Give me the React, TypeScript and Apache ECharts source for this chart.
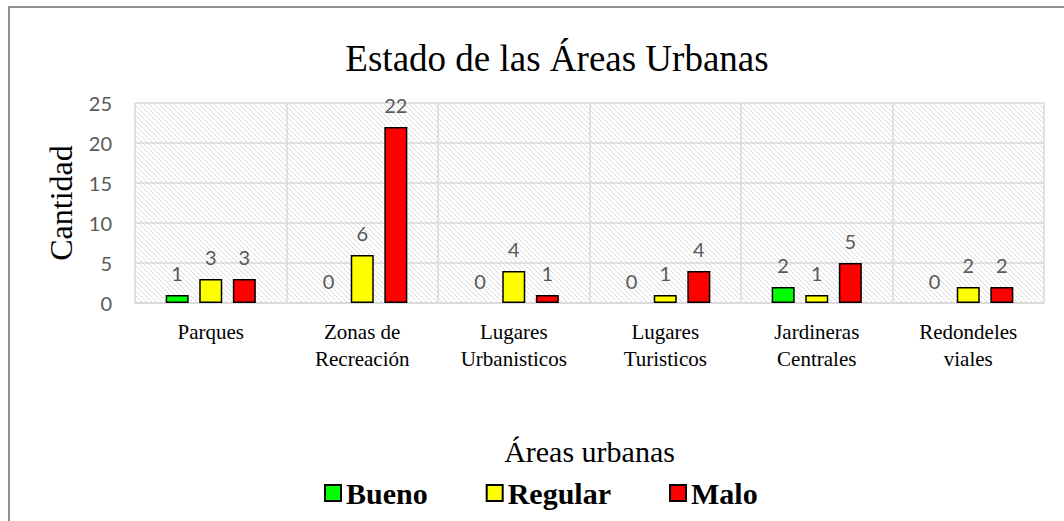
import React, { useEffect, useRef } from "react";
import * as echarts from "echarts";

const categories = [
  "Parques",
  "Zonas de Recreación",
  "Lugares Urbanisticos",
  "Lugares Turisticos",
  "Jardineras Centrales",
  "Redondeles viales",
];
const bueno = [1, 0, 0, 0, 2, 0];
const regular = [3, 6, 4, 1, 1, 2];
const malo = [3, 22, 1, 4, 5, 2];
const seriesNames = ["Bueno", "Regular", "Malo"];
const seriesColors = ["#00ff00", "#ffff00", "#ff0000"];
const yTicks = { min: 0, max: 25, interval: 5 };

const hatchSvg =
  "data:image/svg+xml;charset=utf-8," +
  encodeURIComponent(
    '<svg xmlns="http://www.w3.org/2000/svg" width="5" height="5">' +
      '<rect width="5" height="5" fill="#ffffff"/>' +
      '<path d="M0 0L5 5M-1 4L1 6M4 -1L6 1" stroke="#d9d9d9" stroke-width="1"/>' +
      "</svg>"
  );

export default function App() {
  const ref = useRef<HTMLDivElement>(null);
  useEffect(() => {
    document.body.style.margin = "0";
    const chart = echarts.init(ref.current!, null, { renderer: "svg" });
    const serif = "Liberation Serif";
    const sans = "Lato";
    const dataSets = [bueno, regular, malo];
    chart.setOption({
      animation: false,
      backgroundColor: "#ffffff",
      title: {
        text: "Estado de las Áreas Urbanas",
        left: 552,
        textAlign: "center",
        top: 35,
        textStyle: { fontFamily: serif, fontSize: 37, fontWeight: "normal", color: "#000" },
      },
      graphic: [
        {
          type: "polyline",
          shape: { points: [[9, 521], [9, 7], [1064, 7]] },
          style: { stroke: "#6b6b6b", lineWidth: 1.5, fill: "none" },
          silent: true,
        },
      ],
      legend: {
        data: seriesNames,
        left: 319,
        top: 473,
        itemWidth: 16,
        itemHeight: 16,
        itemGap: 58,
        icon: "rect",
        textStyle: { fontFamily: serif, fontSize: 30, fontWeight: "bold", color: "#000" },
      },
      grid: {
        left: 135,
        right: 20,
        top: 103,
        bottom: 218,
        show: true,
        borderWidth: 0,
        backgroundColor: { image: hatchSvg, repetition: "repeat" },
      },
      xAxis: {
        type: "category",
        data: categories,
        name: "Áreas urbanas",
        nameLocation: "middle",
        nameGap: 133,
        nameTextStyle: { fontFamily: serif, fontSize: 30, color: "#000" },
        axisLine: { lineStyle: { color: "#d9d9d9", width: 1.5 } },
        axisTick: { show: false },
        splitLine: { show: true, interval: 0, lineStyle: { color: "#d9d9d9", width: 1.5 } },
        axisLabel: {
          interval: 0,
          margin: 15,
          fontFamily: serif,
          fontSize: 21,
          lineHeight: 27,
          color: "#000",
          formatter: (v: string) => {
            const i = v.lastIndexOf(" ");
            return i > 0 ? v.slice(0, i) + "\n" + v.slice(i + 1) : v;
          },
        },
      },
      yAxis: {
        type: "value",
        min: yTicks.min,
        max: yTicks.max,
        interval: yTicks.interval,
        name: "Cantidad",
        nameLocation: "middle",
        nameGap: 58,
        nameTextStyle: { fontFamily: serif, fontSize: 32, color: "#000" },
        axisLine: { show: false },
        axisTick: { show: false },
        splitLine: { show: true, lineStyle: { color: "#d9d9d9", width: 1.5 } },
        axisLabel: { margin: 23, fontFamily: sans, fontSize: 20, color: "#595959" },
      },
      series: seriesNames.map((name, i) => ({
        name,
        type: "bar",
        data: dataSets[i].map((v) =>
          v === 0
            ? { value: v, itemStyle: { borderWidth: 0, color: "rgba(0,0,0,0)" } }
            : v
        ),
        barWidth: 23,
        barGap: "46%",
        itemStyle: { color: seriesColors[i], borderColor: "#000", borderWidth: 1.5 },
        label: {
          show: true,
          position: "top",
          distance: 12,
          fontFamily: sans,
          fontSize: 20,
          color: "#595959",
        },
      })),
    });
    return () => chart.dispose();
  }, []);
  return <div ref={ref} style={{ width: 1064, height: 521 }} />;
}
